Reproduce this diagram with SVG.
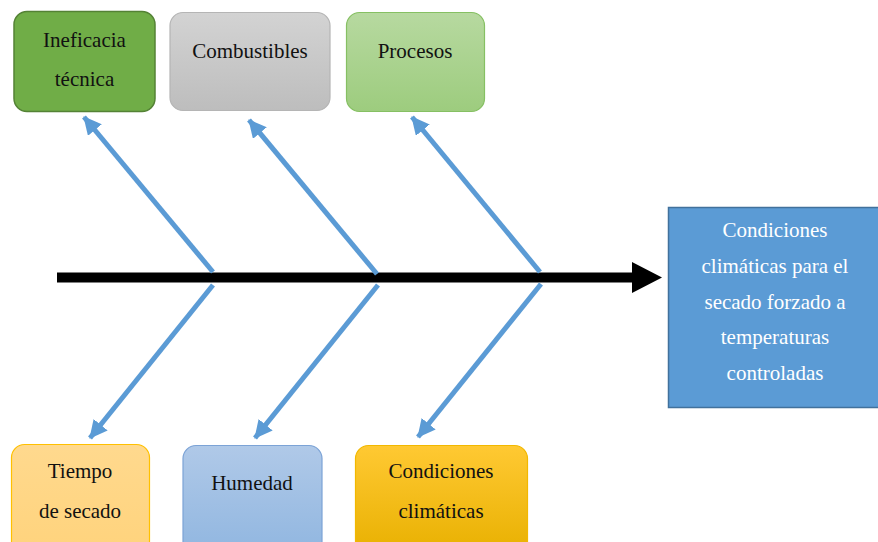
<svg xmlns="http://www.w3.org/2000/svg" width="878" height="542" viewBox="0 0 878 542">
<style>
.t{font-family:"Liberation Serif","Times New Roman",serif;font-size:21px;fill:#111;text-anchor:middle}
.w{fill:#fff}
.c{stroke:#5B9BD5;stroke-width:5;fill:none;marker-end:url(#ah)}
</style>
<defs>
<marker id="ah" markerUnits="userSpaceOnUse" markerWidth="20" markerHeight="18" refX="17" refY="9" orient="auto">
<path d="M0,0 L18,9 L0,18 Z" fill="#5B9BD5"/>
</marker>
<linearGradient id="gGray" x1="0" y1="0" x2="0" y2="1"><stop offset="0" stop-color="#d3d3d3"/><stop offset="1" stop-color="#bdbdbd"/></linearGradient>
<linearGradient id="gLg" x1="0" y1="0" x2="0" y2="1"><stop offset="0" stop-color="#b7d9a0"/><stop offset="1" stop-color="#9dcc7e"/></linearGradient>
<linearGradient id="gOr" x1="0" y1="0" x2="0" y2="1"><stop offset="0" stop-color="#ffd98e"/><stop offset="1" stop-color="#ffd37c"/></linearGradient>
<linearGradient id="gBl" x1="0" y1="0" x2="0" y2="1"><stop offset="0" stop-color="#b0c9e8"/><stop offset="1" stop-color="#90b6e0"/></linearGradient>
<linearGradient id="gGd" x1="0" y1="0" x2="0" y2="1"><stop offset="0" stop-color="#ffc933"/><stop offset="1" stop-color="#e8b000"/></linearGradient>
</defs>
<g id="connectors">
<path d="M57,277.5 H636" stroke="#000" stroke-width="10" fill="none"/>
<path d="M632,262 L662,277.5 L632,293 Z" fill="#000"/>
<path class="c" d="M213,272 L84,117"/>
<path class="c" d="M377,274 L249,120"/>
<path class="c" d="M540,272 L412,117"/>
<path class="c" d="M213,285 L90,438"/>
<path class="c" d="M378,285 L255,438"/>
<path class="c" d="M541,284 L418,437"/>
</g>
<g id="n-ineficacia">
<rect x="14" y="11.5" width="141" height="100" rx="13" fill="#70AD47" stroke="#548235" stroke-width="1.5"/>
<text class="t" x="84.5" y="47">Ineficacia</text>
<text class="t" x="84.5" y="86">técnica</text>
</g>
<g id="n-combustibles">
<rect x="170" y="12.5" width="160" height="98" rx="13" fill="url(#gGray)" stroke="#b5b5b5" stroke-width="1.2"/>
<text class="t" x="250" y="58">Combustibles</text>
</g>
<g id="n-procesos">
<rect x="346.5" y="12.5" width="138" height="99" rx="13" fill="url(#gLg)" stroke="#86c063" stroke-width="1.2"/>
<text class="t" x="415" y="58">Procesos</text>
</g>
<g id="n-tiempo">
<rect x="11.5" y="444.5" width="138" height="110" rx="13" fill="url(#gOr)" stroke="#ffc000" stroke-width="1.2"/>
<text class="t" x="80" y="478">Tiempo</text>
<text class="t" x="80" y="518">de secado</text>
</g>
<g id="n-humedad">
<rect x="183" y="445.5" width="139" height="110" rx="13" fill="url(#gBl)" stroke="#7ca3d6" stroke-width="1.2"/>
<text class="t" x="252" y="490">Humedad</text>
</g>
<g id="n-condiciones">
<rect x="355.5" y="445.5" width="172" height="110" rx="13" fill="url(#gGd)" stroke="#f2b800" stroke-width="1.2"/>
<text class="t" x="441" y="478">Condiciones</text>
<text class="t" x="441" y="518">climáticas</text>
</g>
<g id="n-resultado">
<rect x="668.5" y="207.5" width="212" height="200" fill="#5B9BD5" stroke="#41719C" stroke-width="1.5"/>
<text class="t w" x="775" y="237">Condiciones</text>
<text class="t w" x="775" y="273">climáticas para el</text>
<text class="t w" x="775" y="309">secado forzado a</text>
<text class="t w" x="775" y="344">temperaturas</text>
<text class="t w" x="775" y="380">controladas</text>
</g>
</svg>
